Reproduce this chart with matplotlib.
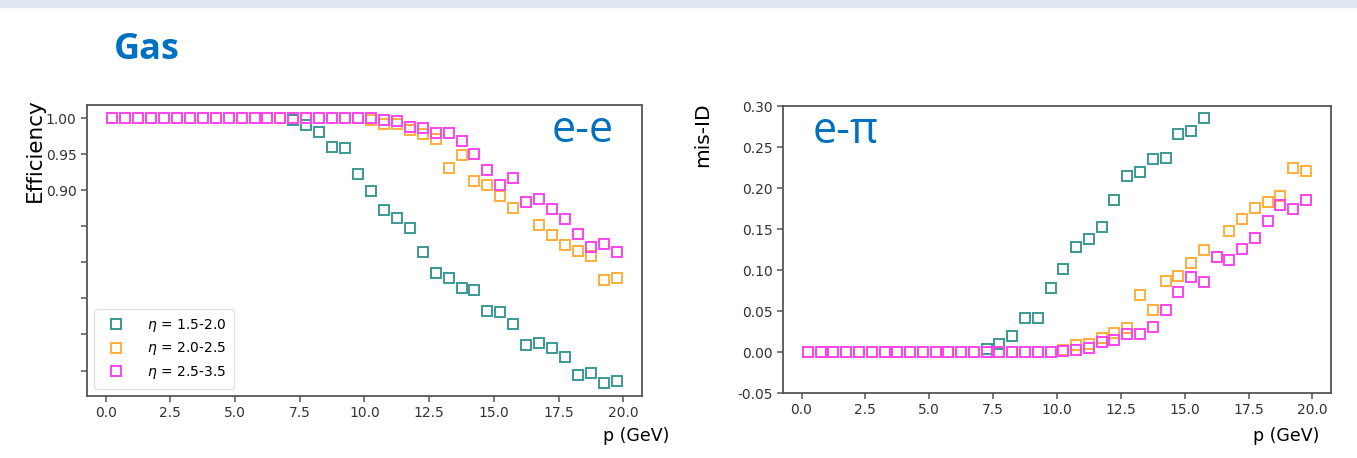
import matplotlib
matplotlib.use("Agg")
import matplotlib.pyplot as plt
from matplotlib.patches import Rectangle
import numpy as np

# momentum bin centres (GeV)
p = np.arange(0.25, 20.0, 0.5)

labels = ["$\\eta$ = 1.5-2.0", "$\\eta$ = 2.0-2.5", "$\\eta$ = 2.5-3.5"]
colors = ["#3a9896", "#ffae3a", "#ff44ee"]

# electron efficiency (e-e)
eff_15 = [1.0] * 14 + [0.997, 0.991, 0.981, 0.960, 0.958, 0.922, 0.899, 0.872,
                       0.862, 0.847, 0.814, 0.785, 0.779, 0.765, 0.762, 0.733,
                       0.731, 0.714, 0.685, 0.688, 0.681, 0.669, 0.644, 0.647,
                       0.633, 0.635]
eff_20 = [1.0] * 20 + [0.998, 0.992, 0.992, 0.984, 0.978, 0.971, 0.931, 0.949,
                       0.913, 0.907, 0.892, 0.876, 0.884, 0.852, 0.838, 0.824,
                       0.816, 0.809, 0.775, 0.778]
eff_25 = [1.0] * 21 + [0.998, 0.996, 0.988, 0.987, 0.979, 0.979, 0.969, 0.950,
                       0.928, 0.908, 0.917, 0.884, 0.888, 0.874, 0.860, 0.840,
                       0.822, 0.825, 0.814]

# pion mis-identification (e-pi)
mis_15 = [0.0] * 14 + [0.004, 0.010, 0.020, 0.041, 0.042, 0.078, 0.101, 0.128,
                       0.138, 0.153, 0.185, 0.215, 0.220, 0.235, 0.237, 0.266,
                       0.269, 0.285]
mis_20 = [0.0] * 20 + [0.003, 0.008, 0.010, 0.017, 0.023, 0.029, 0.070, 0.051,
                       0.087, 0.093, 0.108, 0.124, 0.116, 0.148, 0.162, 0.176,
                       0.183, 0.190, 0.225, 0.221]
mis_25 = [0.0] * 20 + [0.001, 0.002, 0.005, 0.012, 0.015, 0.022, 0.022, 0.031,
                       0.051, 0.073, 0.092, 0.085, 0.116, 0.112, 0.126, 0.139,
                       0.160, 0.179, 0.174, 0.185]

blue = "#0070c0"

fig = plt.figure(figsize=(13.57, 4.58), dpi=100)
fig.patches.append(Rectangle((0, 0.984), 1, 0.016, transform=fig.transFigure,
                             color="#dde6f1", zorder=0))
fig.text(0.084, 0.89, "Gas", color=blue, fontsize=26, fontweight="bold",
         family="Open Sans", va="center", ha="left")


def style_axes(ax):
    for s in ax.spines.values():
        s.set_color("#555555")
        s.set_linewidth(1.3)
    ax.tick_params(colors="#555555", labelcolor="#333333", labelsize=10,
                   width=1.1, length=4)


def draw(ax, ys):
    for y, c, lab in zip(ys, colors, labels):
        ax.plot(p[:len(y)], y, "s", mfc="none", mec=c, mew=1.4, ms=7,
                label=lab)


# left: efficiency
ax1 = fig.add_axes([0.0641, 0.1354, 0.409, 0.6354])
draw(ax1, [eff_15, eff_20, eff_25])
style_axes(ax1)
ax1.set_xticks(np.arange(0, 20.1, 2.5))
ax1.set_yticks(np.arange(0.65, 1.001, 0.05))
ax1.set_yticklabels(["", "", "", "", "", "0.90", "0.95", "1.00"])
ax1.legend(loc="lower left", fontsize=10, handletextpad=1.2,
           borderpad=0.6, labelspacing=0.45, edgecolor="#dddddd")
ax1.text(0.893, 0.91, "e-e", transform=ax1.transAxes, color=blue,
         fontsize=31, family="Open Sans", ha="center", va="center")
fig.text(0.026, 0.672, "Efficiency", rotation=90, fontsize=15.5,
         ha="center", va="center")
fig.text(0.493, 0.048, "p (GeV)", fontsize=12.5, ha="right", va="center")

# right: mis-ID
ax2 = fig.add_axes([0.577, 0.1419, 0.4038, 0.6266])
draw(ax2, [mis_15, mis_20, mis_25])
style_axes(ax2)
ax2.set_ylim(-0.05, 0.30)
ax2.set_xticks(np.arange(0, 20.1, 2.5))
ax2.set_yticks(np.arange(-0.05, 0.301, 0.05))
ax2.set_yticklabels(["-0.05", "0.00", "0.05", "0.10", "0.15", "0.20",
                     "0.25", "0.30"])
ax2.text(0.115, 0.91, "e-\u03c0", transform=ax2.transAxes, color=blue,
         fontsize=31, family=["Open Sans", "DejaVu Sans"], ha="center",
         va="center")
fig.text(0.5175, 0.705, "mis-ID", rotation=90, fontsize=14.5,
         ha="center", va="center")
fig.text(0.972, 0.048, "p (GeV)", fontsize=12.5, ha="right", va="center")

fig.savefig("out.png", dpi=100)
